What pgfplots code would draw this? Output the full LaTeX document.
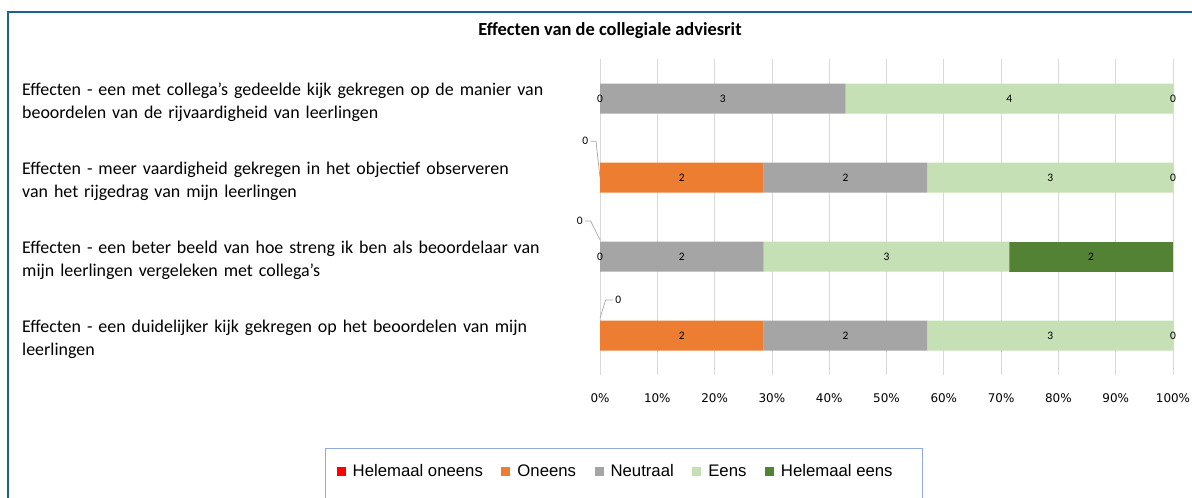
\documentclass[border=0pt]{standalone}
\usepackage{pgfplots}
\pgfplotsset{compat=1.18}
\usepackage{fontspec}
\setmainfont{Carlito}
\newfontfamily\legfont{Liberation Sans}
\newfontfamily\tickfont{DejaVu Sans}

\definecolor{honeens}{HTML}{FF0000}
\definecolor{oneens}{HTML}{ED7D31}
\definecolor{neutraal}{HTML}{A5A5A5}
\definecolor{eens}{HTML}{C5E0B4}
\definecolor{heens}{HTML}{548235}
\definecolor{frameblue}{RGB}{31,97,141}
\definecolor{legblue}{RGB}{143,170,220}
\definecolor{gridgray}{HTML}{D9D9D9}
\definecolor{leadgray}{HTML}{A6A6A6}

\tikzset{
  zlbl/.style={black, inner sep=0pt, font=\fontsize{11.5}{13}\selectfont},
  callout/.style={leadgray, line width=0.7bp},
}

\begin{document}
\begin{tikzpicture}
\useasboundingbox (0,0) rectangle (1192bp,498bp);
\draw[frameblue, line width=2bp] (8bp,-3bp) -- (8bp,486bp) -- (1195bp,486bp);
\node[font=\fontsize{18.5}{22}\selectfont\bfseries] at (610bp,467bp) {Effecten van de collegiale adviesrit};
\draw[legblue, line width=1bp] (325bp,-5bp) rectangle (922bp,49bp);

\begin{axis}[
  at={(600bp,123bp)}, anchor=south west,
  scale only axis, width=573bp, height=316bp,
  clip=false,
  xbar stacked, bar width=30bp,
  xmin=0, xmax=100, ymin=-0.5, ymax=3.5, y dir=reverse,
  xtick={0,10,...,100},
  xticklabels={0\%,10\%,20\%,30\%,40\%,50\%,60\%,70\%,80\%,90\%,100\%},
  xticklabel style={font=\tickfont\fontsize{12}{14}\selectfont, yshift=-15bp},
  ytick={0,1,2,3},
  yticklabels={
    {Effecten - een met collega’s gedeelde kijk gekregen op de manier van\\beoordelen van de rijvaardigheid van leerlingen},
    {Effecten - meer vaardigheid gekregen in het objectief observeren\\van het rijgedrag van mijn leerlingen},
    {Effecten - een beter beeld van hoe streng ik ben als beoordelaar van\\mijn leerlingen vergeleken met collega’s},
    {Effecten - een duidelijker kijk gekregen op het beoordelen van mijn\\leerlingen}},
  yticklabel style={anchor=west, xshift=-578bp, yshift=-4bp, inner sep=0pt,
    text width=560bp, align=left, font=\fontsize{18}{23}\selectfont},
  major tick length=0pt,
  axis line style={draw=none},
  xmajorgrids, grid style={gridgray, line width=0.8bp},
  point meta=explicit,
  /pgf/number format/assume math mode=true,
  lbl/.style={nodes near coords, every node near coord/.append style={font=\fontsize{11.5}{13}\selectfont, black}},
  legend columns=5,
  legend style={at={(-0.4599,-0.3038)}, anchor=west, draw=none, fill=none, inner sep=0pt,
    font=\legfont\fontsize{16.8}{19}\selectfont, nodes={inner sep=3.5bp},
    /tikz/every odd column/.append style={column sep=3.5bp},
    /tikz/every even column/.append style={column sep=15bp}},
  legend cell align=left,
  legend image code/.code={\path[#1, draw=none] (0bp,-4.5bp) rectangle (9bp,4.5bp);},
]
\addplot[fill=honeens, draw=none] coordinates {(0,0) [0] (0,1) [0] (0,2) [0] (0,3) [0]};
\addplot[fill=oneens, draw=none, lbl] coordinates {(0,0) [0] (28.571,1) [2] (0,2) [0] (28.571,3) [2]};
\addplot[fill=neutraal, draw=none, lbl] coordinates {(42.857,0) [3] (28.571,1) [2] (28.571,2) [2] (28.571,3) [2]};
\addplot[fill=eens, draw=none, lbl] coordinates {(57.143,0) [4] (42.857,1) [3] (42.857,2) [3] (42.857,3) [3]};
\addplot[fill=heens, draw=none, lbl] coordinates {(0,0) [0] (0,1) [0] (28.571,2) [2] (0,3) [0]};
\legend{Helemaal oneens, Oneens, Neutraal, Eens, Helemaal eens}

% anchor points for the zero labels, drawn after the axis so bars do not hide them
\coordinate (z1) at (axis cs:0,0);
\coordinate (z2) at (axis cs:100,0);
\coordinate (z3) at (axis cs:100,1);
\coordinate (z4) at (axis cs:0,2);
\coordinate (z5) at (axis cs:100,3);
% callouts for the zero "Helemaal oneens" values
\draw[callout] (axis cs:0,1) -- (axis cs:-0.70,0.54) -- (axis cs:-1.64,0.54)
  node[zlbl, left, inner sep=2bp] {0};
\draw[callout] (axis cs:0,1.79) -- (axis cs:-1.64,1.55) -- (axis cs:-2.62,1.55)
  node[zlbl, left, inner sep=2bp] {0};
\draw[callout] (axis cs:0,2.78) -- (axis cs:0.99,2.55) -- (axis cs:2.27,2.55)
  node[zlbl, right, inner sep=2bp] {0};
\end{axis}
\foreach \p in {z1,z2,z3,z4,z5} {\node[zlbl] at (\p) {0};}
\end{tikzpicture}
\end{document}
